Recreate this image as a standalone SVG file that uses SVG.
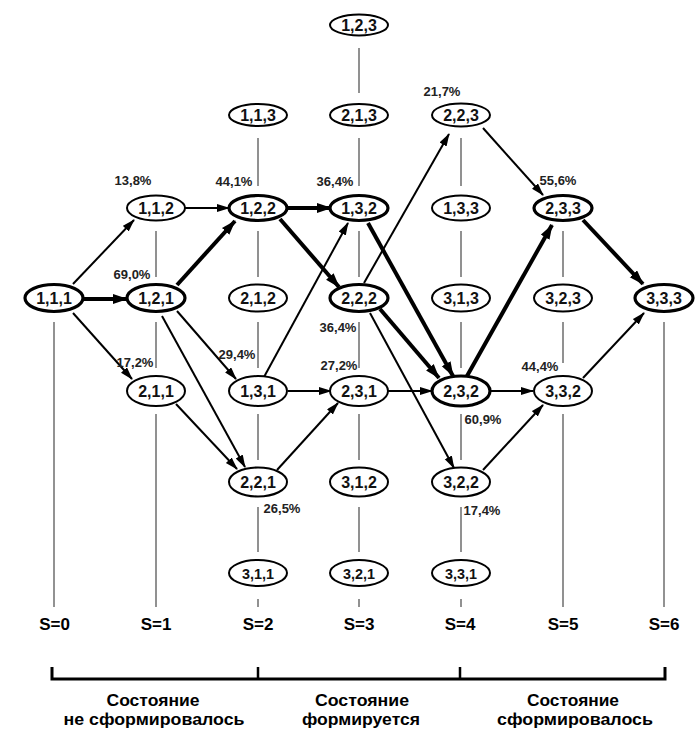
<svg xmlns="http://www.w3.org/2000/svg" width="700" height="731" viewBox="0 0 700 731">
<style>
.n{fill:#fff;stroke:#000;stroke-width:2}
.k{fill:#fff;stroke:#000;stroke-width:3.2}
.t{font-family:"Liberation Sans",Arial,sans-serif;font-size:16px;font-weight:bold;fill:#111;text-anchor:middle}
.tb{font-family:"Liberation Sans",Arial,sans-serif;font-size:15px;font-weight:bold;fill:#111;text-anchor:middle}
.p{font-family:"Liberation Sans",Arial,sans-serif;font-size:13px;font-weight:bold;fill:#222;text-anchor:middle}
.s{font-family:"Liberation Sans",Arial,sans-serif;font-size:17px;font-weight:bold;fill:#000;text-anchor:middle}
.g{stroke:#6e6e6e;stroke-width:1.5;fill:none}
.e{stroke:#000;stroke-width:2;fill:none;marker-end:url(#ah)}
.E{stroke:#000;stroke-width:4;fill:none;marker-end:url(#AH)}
</style>
<defs>
<marker id="ah" markerUnits="userSpaceOnUse" markerWidth="14" markerHeight="10" refX="12" refY="4" orient="auto"><path d="M0,0 L13,4 L0,8 z" fill="#000"/></marker>
<marker id="AH" markerUnits="userSpaceOnUse" markerWidth="18" markerHeight="12" refX="14" refY="5" orient="auto"><path d="M0,0 L15,5 L0,10 z" fill="#000"/></marker>
</defs>
<rect width="700" height="731" fill="#fff"/>
<g id="gridlines">
<path class="g" d="M54,322V607"/>
<path class="g" d="M156,231V277M156,322V368M156,414V607"/>
<path class="g" d="M258,138V186M258,231V277M258,322V368M258,414V460M258,507V552M258,599V607"/>
<path class="g" d="M359,48V93M359,138V186M359,231V277M359,322V368M359,414V460M359,507V552M359,599V607"/>
<path class="g" d="M461,138V186M461,231V277M461,322V368M461,414V460M461,507V552M461,599V607"/>
<path class="g" d="M563,231V277M563,322V363M563,414V607"/>
<path class="g" d="M664,322V607"/>
</g>
<g id="connectors">
<path class="e" d="M73,284L134,220"/>
<path class="E" d="M84,299L127,299"/>
<path class="e" d="M73,313L132,379"/>
<path class="e" d="M185,208L229,208"/>
<path class="E" d="M177,285L235,221"/>
<path class="e" d="M177,311L236,379"/>
<path class="e" d="M162,316L245,467"/>
<path class="e" d="M176,404L237,469"/>
<path class="E" d="M287,208L331,208"/>
<path class="E" d="M280,219L339,287"/>
<path class="e" d="M264,377L348,223"/>
<path class="e" d="M288,391L331,391"/>
<path class="e" d="M277,470L338,403"/>
<path class="E" d="M368,223L453,376"/>
<path class="E" d="M380,309L439,378"/>
<path class="e" d="M370,313L454,468"/>
<path class="e" d="M364,283L449,134"/>
<path class="e" d="M388,391L432,391"/>
<path class="e" d="M483,128L543,195"/>
<path class="E" d="M467,376L552,225"/>
<path class="e" d="M490,391L533,391"/>
<path class="e" d="M483,470L543,405"/>
<path class="E" d="M583,220L643,284"/>
<path class="e" d="M583,378L644,313"/>
</g>
<g id="n111"><ellipse class="k" cx="54" cy="298" rx="29" ry="13.5"/><text class="t" x="54" y="303.7">1,1,1</text></g>
<g id="n112"><ellipse class="n" cx="156" cy="208" rx="29" ry="12.5"/><text class="t" x="156" y="213.7">1,1,2</text></g>
<g id="n121"><ellipse class="k" cx="156" cy="298" rx="29" ry="13.5"/><text class="t" x="156" y="303.7">1,2,1</text></g>
<g id="n211"><ellipse class="n" cx="156" cy="391" rx="29" ry="15"/><text class="t" x="156" y="396.7">2,1,1</text></g>
<g id="n113"><ellipse class="n" cx="258" cy="115" rx="29" ry="11"/><text class="t" x="258" y="120.7">1,1,3</text></g>
<g id="n122"><ellipse class="k" cx="258" cy="208" rx="29" ry="12.5"/><text class="t" x="258" y="213.7">1,2,2</text></g>
<g id="n212"><ellipse class="n" cx="258" cy="298" rx="29" ry="13.5"/><text class="t" x="258" y="303.7">2,1,2</text></g>
<g id="n131"><ellipse class="n" cx="258" cy="391" rx="29" ry="15"/><text class="t" x="258" y="396.7">1,3,1</text></g>
<g id="n221"><ellipse class="n" cx="258" cy="482" rx="29" ry="14.5"/><text class="t" x="258" y="487.7">2,2,1</text></g>
<g id="n311"><ellipse class="n" cx="258" cy="573" rx="29" ry="13"/><text class="tb" x="258" y="578.5" textLength="32" lengthAdjust="spacingAndGlyphs">3,1,1</text></g>
<g id="n123"><ellipse class="n" cx="359" cy="25" rx="29" ry="10.5"/><text class="t" x="359" y="30.7">1,2,3</text></g>
<g id="n213"><ellipse class="n" cx="359" cy="115" rx="29" ry="11"/><text class="t" x="359" y="120.7">2,1,3</text></g>
<g id="n132"><ellipse class="k" cx="359" cy="208" rx="29" ry="12.5"/><text class="t" x="359" y="213.7">1,3,2</text></g>
<g id="n222"><ellipse class="k" cx="359" cy="298" rx="29" ry="13.5"/><text class="t" x="359" y="303.7">2,2,2</text></g>
<g id="n231"><ellipse class="n" cx="359" cy="391" rx="29" ry="15"/><text class="t" x="359" y="396.7">2,3,1</text></g>
<g id="n312"><ellipse class="n" cx="359" cy="482" rx="29" ry="14.5"/><text class="t" x="359" y="487.7">3,1,2</text></g>
<g id="n321"><ellipse class="n" cx="359" cy="573" rx="29" ry="13"/><text class="tb" x="359" y="578.5" textLength="32" lengthAdjust="spacingAndGlyphs">3,2,1</text></g>
<g id="n223"><ellipse class="n" cx="461" cy="115" rx="29" ry="11.5"/><text class="t" x="461" y="120.7">2,2,3</text></g>
<g id="n133"><ellipse class="n" cx="461" cy="208" rx="29" ry="12.5"/><text class="t" x="461" y="213.7">1,3,3</text></g>
<g id="n313"><ellipse class="n" cx="461" cy="298" rx="29" ry="13.5"/><text class="t" x="461" y="303.7">3,1,3</text></g>
<g id="n232"><ellipse class="k" cx="461" cy="391" rx="29" ry="15"/><text class="t" x="461" y="396.7">2,3,2</text></g>
<g id="n322"><ellipse class="n" cx="461" cy="482" rx="29" ry="14.5"/><text class="t" x="461" y="487.7">3,2,2</text></g>
<g id="n331"><ellipse class="n" cx="461" cy="573" rx="29" ry="13"/><text class="tb" x="461" y="578.5" textLength="32" lengthAdjust="spacingAndGlyphs">3,3,1</text></g>
<g id="n233"><ellipse class="k" cx="563" cy="208" rx="29" ry="12.5"/><text class="t" x="563" y="213.7">2,3,3</text></g>
<g id="n323"><ellipse class="n" cx="563" cy="298" rx="29" ry="13.5"/><text class="t" x="563" y="303.7">3,2,3</text></g>
<g id="n332"><ellipse class="n" cx="563" cy="391" rx="29" ry="15"/><text class="t" x="563" y="396.7">3,3,2</text></g>
<g id="n333"><ellipse class="k" cx="664" cy="298" rx="29" ry="13.5"/><text class="t" x="664" y="303.7">3,3,3</text></g>
<g id="percents">
<text class="p" x="133" y="185">13,8%</text>
<text class="p" x="234" y="186">44,1%</text>
<text class="p" x="335" y="186">36,4%</text>
<text class="p" x="132" y="279">69,0%</text>
<text class="p" x="338" y="332">36,4%</text>
<text class="p" x="135" y="367">17,2%</text>
<text class="p" x="237" y="359">29,4%</text>
<text class="p" x="339" y="370">27,2%</text>
<text class="p" x="282" y="513">26,5%</text>
<text class="p" x="442" y="96">21,7%</text>
<text class="p" x="558" y="185">55,6%</text>
<text class="p" x="483" y="424">60,9%</text>
<text class="p" x="540" y="371">44,4%</text>
<text class="p" x="482" y="515">17,4%</text>
</g>
<g id="scale">
<text class="s" x="54.5" y="630">S=0</text>
<text class="s" x="156" y="630">S=1</text>
<text class="s" x="258" y="630">S=2</text>
<text class="s" x="359" y="630">S=3</text>
<text class="s" x="460" y="630">S=4</text>
<text class="s" x="563" y="630">S=5</text>
<text class="s" x="664" y="630">S=6</text>
</g>
<g id="bracket">
<path d="M52,667V679H665V667" stroke="#000" stroke-width="3" fill="none"/>
<path d="M258,667V679M460,667V679" stroke="#000" stroke-width="2.5" fill="none"/>
</g>
<g id="phases">
<text class="s" x="153" y="706" textLength="93" lengthAdjust="spacingAndGlyphs">Состояние</text>
<text class="s" x="154" y="725" textLength="181" lengthAdjust="spacingAndGlyphs">не сформировалось</text>
<text class="s" x="362" y="706" textLength="94" lengthAdjust="spacingAndGlyphs">Состояние</text>
<text class="s" x="361" y="725" textLength="118" lengthAdjust="spacingAndGlyphs">формируется</text>
<text class="s" x="573" y="706" textLength="92" lengthAdjust="spacingAndGlyphs">Состояние</text>
<text class="s" x="575" y="725" textLength="156" lengthAdjust="spacingAndGlyphs">сформировалось</text>
</g>
</svg>
